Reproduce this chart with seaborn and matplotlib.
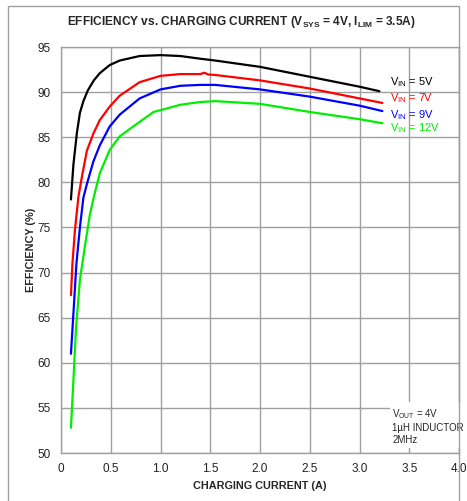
import numpy as np
import pandas as pd
import matplotlib
matplotlib.use("Agg")
import matplotlib.pyplot as plt
import seaborn as sns
from matplotlib.patches import Rectangle

# values
i_5v = [0.10, 0.125, 0.16, 0.19, 0.225, 0.27, 0.33, 0.39, 0.49, 0.59, 0.79, 1.0, 1.2, 1.4, 1.55, 2.0, 2.5, 3.0, 3.2]
eff_5v = [78.1, 82.0, 85.5, 87.7, 89.0, 90.2, 91.3, 92.1, 93.0, 93.5, 94.0, 94.1, 94.0, 93.7, 93.5, 92.8, 91.7, 90.6, 90.1]

i_7v = [0.10, 0.115, 0.14, 0.175, 0.21, 0.26, 0.325, 0.39, 0.49, 0.59, 0.79, 1.0, 1.2, 1.4, 1.44, 1.48, 1.55, 2.0, 2.5, 3.0, 3.23]
eff_7v = [67.5, 71.0, 74.7, 78.4, 80.6, 83.5, 85.4, 86.9, 88.4, 89.6, 91.1, 91.8, 92.0, 92.0, 92.15, 91.95, 91.9, 91.3, 90.4, 89.3, 88.8]

i_9v = [0.10, 0.125, 0.155, 0.19, 0.225, 0.26, 0.325, 0.39, 0.49, 0.59, 0.79, 1.0, 1.2, 1.4, 1.55, 2.0, 2.5, 3.0, 3.23]
eff_9v = [61.0, 65.5, 71.0, 75.0, 78.3, 79.8, 82.3, 84.1, 86.2, 87.5, 89.3, 90.3, 90.7, 90.8, 90.8, 90.3, 89.5, 88.5, 87.9]

i_12v = [0.10, 0.125, 0.15, 0.19, 0.24, 0.29, 0.33, 0.39, 0.49, 0.59, 0.79, 0.93, 1.0, 1.2, 1.4, 1.55, 2.0, 2.5, 3.0, 3.23]
eff_12v = [52.8, 58.1, 63.7, 69.2, 72.9, 76.4, 78.4, 81.0, 83.6, 85.1, 86.7, 87.8, 88.0, 88.6, 88.9, 89.0, 88.7, 87.8, 87.0, 86.55]

series_names = ["5V", "7V", "9V", "12V"]
series_colors = ["#000000", "#ff0000", "#0000ff", "#00ee00"]
x_ticks = [0, 0.5, 1.0, 1.5, 2.0, 2.5, 3.0, 3.5, 4.0]
x_tick_labels = ["0", "0.5", "1.0", "1.5", "2.0", "2.5", "3.0", "3.5", "4.0"]
y_ticks = [50, 55, 60, 65, 70, 75, 80, 85, 90, 95]

sns.set_style("white")
plt.rcParams['font.family'] = ['Liberation Sans', 'DejaVu Sans']
plt.rcParams['mathtext.fontset'] = 'custom'
plt.rcParams['mathtext.rm'] = 'Liberation Sans'
plt.rcParams['mathtext.bf'] = 'Liberation Sans:bold'

frames = []
for name, xs, ys in zip(series_names, [i_5v, i_7v, i_9v, i_12v], [eff_5v, eff_7v, eff_9v, eff_12v]):
    frames.append(pd.DataFrame({"current": xs, "eff": ys, "vin": name}))
df = pd.concat(frames, ignore_index=True)

fig = plt.figure(figsize=(4.67, 5.01), dpi=100)
ax = fig.add_axes([61 / 467, 48 / 501, 398 / 467, 406 / 501])

sns.lineplot(data=df, x="current", y="eff", hue="vin", hue_order=series_names,
             palette=series_colors, linewidth=1.6, legend=False, ax=ax, zorder=3)

grid_col = "#a0a0a0"
ax.set_xlim(0, 4.0)
ax.set_ylim(50, 95)
ax.set_xticks(x_ticks)
ax.set_xticklabels(x_tick_labels)
ax.set_yticks(y_ticks)
ax.grid(True, color=grid_col, linewidth=1.0)
for s in ax.spines.values():
    s.set_color(grid_col)
    s.set_linewidth(1.0)
ax.tick_params(axis="both", direction="out", length=3, width=1, color=grid_col,
               labelsize=8.5, labelcolor="#222222", pad=4.5)

ax.set_xlabel("CHARGING CURRENT (A)", fontsize=7.8, fontweight="bold")
ax.set_ylabel("EFFICIENCY (%)", fontsize=7.8, fontweight="bold")
ax.xaxis.set_label_coords(0.5, -0.068)
ax.yaxis.set_label_coords(-0.064, 0.5)

fig.text(0.517, 0.956, r"EFFICIENCY vs. CHARGING CURRENT (V$_{\mathbf{SYS}}$ = 4V, I$_{\mathbf{LIM}}$ = 3.5A)",
         ha="center", va="center", fontsize=8.6, fontweight="bold")

# inline labels for the four supplies
label_y = [91.1, 89.35, 87.5, 86.0]
for name, col, yy in zip(series_names, series_colors, label_y):
    ax.text(3.31, yy, r"V$_{\mathrm{IN}}$ = " + name, color=col, fontsize=8,
            ha="left", va="center", zorder=4)

ax.text(3.33, 53.0, "V$_{\\mathrm{OUT}}$ = 4V\n1µH INDUCTOR\n2MHz", fontsize=7,
        ha="left", va="center", linespacing=1.25, zorder=4,
        bbox=dict(facecolor="white", edgecolor="none", pad=2))

fig.patches.append(Rectangle((8 / 467, -0.02), 451 / 467, 1.02 - 6 / 501, transform=fig.transFigure,
                             fill=False, edgecolor=grid_col, linewidth=1.0))

fig.savefig("out.png", dpi=100)
